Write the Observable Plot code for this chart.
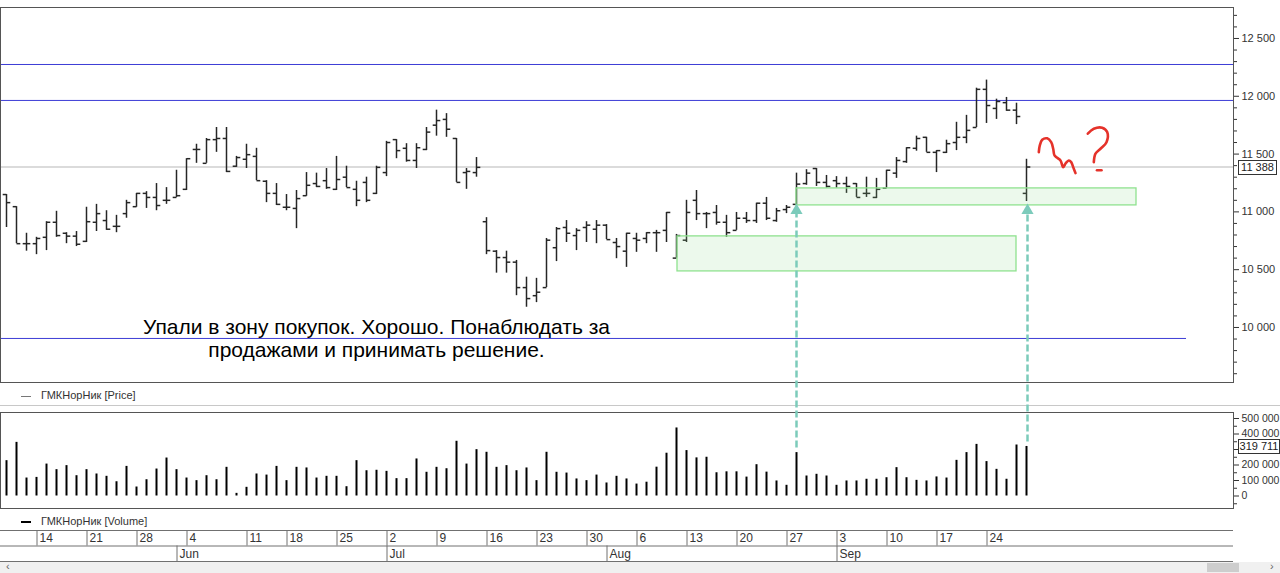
<!DOCTYPE html>
<html><head><meta charset="utf-8">
<script src="https://cdn.jsdelivr.net/npm/d3@7"></script>
<script src="https://cdn.jsdelivr.net/npm/@observablehq/plot@0.6"></script>
<style>
html,body{margin:0;padding:0;background:#fff;}
#wrap{position:relative;width:1280px;height:573px;overflow:hidden;font-family:"Liberation Sans",Arial,sans-serif;color:#333;}
#wrap > *{position:absolute;left:0;}
.box{border:1px solid #333;background:#fff;font-size:11px;line-height:13px;text-align:center;color:#222;box-sizing:border-box;height:15px;width:39px;}
</style></head><body><div id="wrap"></div>
<script>
// ---- data (ГМКНорНик, daily, 2018) ----
const dates = [
"2018-05-08","2018-05-10","2018-05-11",
"2018-05-14","2018-05-15","2018-05-16","2018-05-17","2018-05-18",
"2018-05-21","2018-05-22","2018-05-23","2018-05-24","2018-05-25",
"2018-05-28","2018-05-29","2018-05-30","2018-05-31","2018-06-01",
"2018-06-04","2018-06-05","2018-06-06","2018-06-07","2018-06-08","2018-06-09",
"2018-06-11","2018-06-13","2018-06-14","2018-06-15",
"2018-06-18","2018-06-19","2018-06-20","2018-06-21","2018-06-22",
"2018-06-25","2018-06-26","2018-06-27","2018-06-28","2018-06-29",
"2018-07-02","2018-07-03","2018-07-04","2018-07-05","2018-07-06",
"2018-07-09","2018-07-10","2018-07-11","2018-07-12","2018-07-13",
"2018-07-16","2018-07-17","2018-07-18","2018-07-19","2018-07-20",
"2018-07-23","2018-07-24","2018-07-25","2018-07-26","2018-07-27",
"2018-07-30","2018-07-31","2018-08-01","2018-08-02","2018-08-03",
"2018-08-06","2018-08-07","2018-08-08","2018-08-09","2018-08-10",
"2018-08-13","2018-08-14","2018-08-15","2018-08-16","2018-08-17",
"2018-08-20","2018-08-21","2018-08-22","2018-08-23","2018-08-24",
"2018-08-27","2018-08-28","2018-08-29","2018-08-30","2018-08-31",
"2018-09-03","2018-09-04","2018-09-05","2018-09-06","2018-09-07",
"2018-09-10","2018-09-11","2018-09-12","2018-09-13","2018-09-14",
"2018-09-17","2018-09-18","2018-09-19","2018-09-20","2018-09-21",
"2018-09-24","2018-09-25","2018-09-26","2018-09-27","2018-09-28"];

const open = [11150,11045,10725,10725,10780,10910,10815,10790,10745,10910,
10925,10875,10985,11045,11160,11125,11100,11125,11195,11540,
11420,11625,11635,11395,11455,11480,11265,11160,11040,11030,
11140,11245,11270,11195,11300,11195,11255,11160,11340,11625,
11550,11445,11540,11750,11800,11635,11340,11340,10915,10660,
10605,10565,10345,10275,10345,10690,10865,10795,10865,10850,
10885,10735,10660,10770,10770,10820,10840,10600,10755,11100,
10985,10995,10910,10840,10945,10925,11075,10925,11020,11065,
11245,11375,11255,11270,11245,11245,11160,11125,11205,11335,
11435,11550,11645,11515,11515,11600,11645,11730,12060,11895,
11945,11880,11160];
const high = [11150,11045,10815,10780,10915,11005,10820,10830,11040,11065,
11010,10970,11100,11160,11175,11245,11210,11360,11460,11585,
11635,11730,11730,11480,11585,11550,11270,11245,11150,11185,
11340,11335,11375,11480,11395,11265,11300,11395,11610,11625,
11590,11590,11730,11880,11850,11635,11375,11470,10950,10665,
10660,10580,10435,10425,10770,10865,10925,10855,10915,10925,
10890,10770,10815,10815,10820,10840,10995,10805,11100,11185,
10995,11055,10970,10995,10995,11075,11125,11030,11055,11335,
11365,11375,11315,11305,11300,11245,11300,11290,11360,11470,
11555,11655,11645,11530,11620,11775,11835,12070,12140,11975,
11990,11940,11455];
const low = [10865,10725,10660,10630,10665,10780,10725,10700,10735,10830,
10840,10820,10945,11040,11030,11010,11065,11125,11185,11420,
11420,11515,11340,11385,11375,11270,11080,11055,11010,10855,
11135,11210,11195,11185,11210,11045,11080,11150,11305,11460,
11430,11375,11530,11655,11645,11255,11195,11300,10630,10470,
10470,10275,10175,10215,10345,10570,10735,10665,10735,10725,
10760,10595,10520,10650,10725,10650,10735,10600,10735,10925,
10855,10885,10780,10840,10900,10900,10925,10910,10985,11055,
11230,11220,11205,11205,11160,11125,11125,11115,11205,11290,
11420,11525,11515,11340,11505,11530,11590,11730,11765,11800,
11870,11755,11090];
const close = [11080,10725,10725,10770,10910,10795,10790,10720,10915,10985,
10850,10875,11080,11160,11125,11055,11100,11140,11460,11540,
11625,11635,11350,11470,11495,11270,11160,11065,11040,11115,
11230,11220,11210,11280,11210,11100,11100,11385,11600,11530,
11445,11555,11690,11790,11715,11255,11350,11385,10665,10605,
10565,10345,10250,10305,10755,10855,10815,10840,10885,10885,
10760,10700,10815,10755,10820,10820,10995,10795,10995,10985,
10985,10910,10820,10945,10925,11075,10945,11010,11040,11240,
11335,11255,11220,11245,11220,11125,11160,11195,11360,11445,
11555,11635,11515,11530,11590,11645,11705,12060,11920,11955,
11880,11825,11388];
const volume = [228000,346000,116000,120000,206000,170000,196000,131000,170000,142000,
127000,92000,191000,58000,105000,174000,245000,170000,116000,99000,
131000,105000,185000,17000,56000,142000,135000,191000,99000,185000,
181000,116000,127000,127000,60000,228000,163000,166000,159000,112000,
112000,239000,153000,185000,176000,353000,206000,299000,282000,185000,
196000,163000,181000,99000,282000,153000,148000,110000,99000,135000,
84000,127000,110000,77000,89000,186000,276000,439000,293000,246000,
250000,150000,156000,156000,122000,202000,154000,97000,69000,280000,
129000,140000,129000,69000,97000,97000,108000,108000,118000,183000,
118000,101000,97000,123000,116000,230000,280000,333000,222000,172000,
108000,329000,319711];

const priceTicks = [10000,10500,11000,11500,12000,12500];
// 300 000 sits under the last-value box, so only its tick mark is drawn
const volumeTicks = [0,100000,200000,400000,500000];
// annotation levels (blue lines), zones (green boxes), arrows, notes
const levels = [{y:12275, x1:-0.6, x2:122.7},{y:11964, x1:-0.6, x2:122.7},{y:9905, x1:-0.6, x2:118.0}];
const zones = [{x1:67.1, x2:101.0, y1:10485, y2:10788},{x1:79.0, x2:113.0, y1:11056, y2:11203}];
const arrowBars = [{i:79, p:11030},{i:102.1, p:11030}];
const notes = [{i:37, p:9910, text:"Упали в зону покупок. Хорошо. Понаблюдать за\nпродажами и принимать решение."}];
const scribble = [[103.23,11517],[103.33,11575],[103.57,11624],[104.07,11636],[104.47,11603],[104.67,11546],[104.8,11488],[105.07,11468],[105.4,11445],[105.67,11387],[105.93,11422],[106.23,11445],[106.47,11430],[106.67,11387],[106.9,11335]];
const qmark = [[108.13,11676],[108.73,11719],[109.57,11728],[110.07,11690],[110.0,11603],[109.4,11546],[108.9,11503],[108.73,11430]];
const qdot = [[109.05,11360],[109.5,11360]];

// ---- build ----
const font = "'Liberation Sans', Arial, sans-serif";
const W = 1280, MR = 47;
const xDomain = [-0.6, 122.7];
const priceDomain = [9524, 12768];
const volDomain = [-80645, 538710];
const fmt = d => d3.format(",")(d).replace(/,/g, " ");
const D = dates.map(d3.utcParse("%Y-%m-%d"));
const bars = D.map((d, i) => ({i, date: d, o: open[i], h: high[i], l: low[i], c: close[i], v: volume[i]}));
const last = bars[bars.length - 1];

const py = Plot.scale({y: {domain: priceDomain, range: [382, 7]}});
const vy = Plot.scale({y: {domain: volDomain, range: [103, 7]}});
const VOL_TOP = 405, DATE_TOP = 528;

const arrows = arrowBars.map(a => {
  const vIdx = Math.round(a.i);
  const bottomPx = VOL_TOP + vy.apply(volume[vIdx]) - 5;
  return {i: a.i, from: py.invert(bottomPx), to: a.p};
});

const wrap = document.getElementById("wrap");
const baseStyle = {background: "transparent", overflow: "visible", fontFamily: font, color: "#333"};
const teal = "#7ccbbb", red = "#e5322a", barColor = "#262626";

// volume panel
const volPlot = Plot.plot({
  width: W, height: 110, marginLeft: 0, marginRight: MR, marginTop: 7, marginBottom: 7,
  x: {domain: xDomain, axis: null},
  y: {domain: volDomain, axis: null},
  style: {...baseStyle, fontSize: "10.5px"},
  marks: [
    Plot.ruleX(bars, {x: "i", y1: 0, y2: "v", stroke: "#000", strokeWidth: 2}),
    Plot.frame({stroke: "#555"}),
    Plot.axisY({anchor: "right", label: null, ticks: d3.range(-50000, 500000, 50000).filter(t => t % 100000 !== 0), tickSize: 3, tickFormat: () => ""}),
    Plot.axisY({anchor: "right", label: null, ticks: [300000], tickSize: 5, tickFormat: () => ""}),
    Plot.axisY({anchor: "right", label: null, ticks: volumeTicks, tickSize: 5, tickPadding: 3, tickFormat: fmt})
  ]
});
volPlot.style.top = VOL_TOP + "px";
wrap.appendChild(volPlot);

// date axis panel
const weekStarts = [], monthStarts = [];
bars.forEach((b, i) => {
  if (i === 0) return;
  const prev = bars[i - 1].date;
  if (+d3.utcMonday.floor(prev) !== +d3.utcMonday.floor(b.date))
    weekStarts.push({i, label: String(d3.utcMonday.floor(b.date).getUTCDate())});
  if (prev.getUTCMonth() !== b.date.getUTCMonth())
    monthStarts.push({i, label: d3.utcFormat("%b")(b.date)});
});
const datePlot = Plot.plot({
  width: W, height: 36, marginLeft: 0, marginRight: MR, marginTop: 2, marginBottom: 3,
  x: {domain: xDomain, axis: null},
  y: {domain: [0, 2], axis: null},
  style: {...baseStyle, fontSize: "12px"},
  marks: [
    Plot.ruleY([0, 1, 2], {x1: xDomain[0], x2: xDomain[1], stroke: "#707070"}),
    Plot.ruleX(weekStarts, {x: "i", y1: 1, y2: 2, dx: 0.5, stroke: "#707070"}),
    Plot.ruleX(monthStarts, {x: "i", y1: 0, y2: 1, dx: 0.5, stroke: "#707070"}),
    Plot.text(weekStarts, {x: "i", y: 1.5, text: "label", dx: 3, textAnchor: "start", fill: "#333"}),
    Plot.text(monthStarts, {x: "i", y: 0.5, text: "label", dx: 3, textAnchor: "start", fill: "#333"})
  ]
});
datePlot.style.top = DATE_TOP + "px";
wrap.appendChild(datePlot);

// legends, separator, scrollbar
function el(html, css) { const d = document.createElement("div"); d.innerHTML = html; d.style.cssText = css; wrap.appendChild(d); return d; }
el("", "top:405px;width:1280px;height:1px;background:#c8c8c8;");
el('<span style="display:inline-block;width:10px;border-top:1px solid #777;vertical-align:middle;margin-right:10px"></span>ГМКНорНик [Price]', "top:388px;left:21px;font-size:11px;line-height:14px;color:#333;");
el('<span style="display:inline-block;width:10px;border-top:2px solid #000;vertical-align:middle;margin-right:10px"></span>ГМКНорНик [Volume]', "top:514px;left:21px;font-size:11px;line-height:14px;color:#333;");
el('<span style="position:absolute;left:6px;top:-2px;font-size:11px;color:#666">&lsaquo;</span><span style="position:absolute;left:1207px;top:1px;width:32px;height:9px;background:#cdcdcd"></span><span style="position:absolute;left:1270px;top:-2px;font-size:11px;color:#666">&rsaquo;</span>', "top:562px;width:1280px;height:11px;background:#f0f0f0;");

// price panel (on top)
const pricePlot = Plot.plot({
  width: W, height: 390, marginLeft: 0, marginRight: MR, marginTop: 7, marginBottom: 8,
  x: {domain: xDomain, axis: null},
  y: {domain: priceDomain, axis: null},
  style: {...baseStyle, fontSize: "11px"},
  marks: [
    Plot.ruleY([last.c], {x1: xDomain[0], x2: xDomain[1], stroke: "#cfcfcf", strokeWidth: 1.5}),
    Plot.ruleY(levels, {y: "y", x1: "x1", x2: "x2", stroke: "#3d3dd6", strokeWidth: 1}),
    Plot.ruleX(bars, {x: "i", y1: "l", y2: "h", stroke: barColor, strokeWidth: 1.5}),
    Plot.link(bars, {x1: d => d.i - 0.38, x2: "i", y1: "o", y2: "o", stroke: barColor, strokeWidth: 1.5}),
    Plot.link(bars, {x1: "i", x2: d => d.i + 0.38, y1: "c", y2: "c", stroke: barColor, strokeWidth: 1.5}),
    Plot.rect(zones, {x1: "x1", x2: "x2", y1: "y1", y2: "y2", fill: "#86dc86", fillOpacity: 0.16, stroke: "#8fe28f", strokeWidth: 1.3}),
    Plot.frame({stroke: "#555"}),
    Plot.axisY({anchor: "right", label: null, ticks: d3.range(9600, 12800, 100).filter(t => t % 500 !== 0), tickSize: 3, tickFormat: () => ""}),
    Plot.axisY({anchor: "right", label: null, ticks: priceTicks, tickSize: 5, tickPadding: 3, tickFormat: fmt}),
    Plot.text(notes, {x: "i", y: "p", text: "text", fontSize: 21, lineHeight: 1.12, fill: "#000", textAnchor: "middle"}),
    Plot.link(arrows, {x1: "i", x2: "i", y1: "from", y2: "to", stroke: teal, strokeWidth: 2.5, strokeDasharray: "7,3"}),
    Plot.dot(arrows, {x: "i", y: "to", symbol: "triangle", r: 4.5, fill: teal, stroke: "none", dy: 2}),
    Plot.line(scribble, {x: d => d[0], y: d => d[1], curve: "catmull-rom", stroke: red, strokeWidth: 2.6, strokeLinecap: "round", strokeLinejoin: "round"}),
    Plot.line(qmark, {x: d => d[0], y: d => d[1], curve: "catmull-rom", stroke: red, strokeWidth: 2.6, strokeLinecap: "round", strokeLinejoin: "round"}),
    Plot.line(qdot, {x: d => d[0], y: d => d[1], stroke: red, strokeWidth: 2.6, strokeLinecap: "round"})
  ]
});
pricePlot.style.top = "0px";
wrap.appendChild(pricePlot);

// last-value boxes placed through the scales
const lastPriceBox = el(fmt(last.c), "");
lastPriceBox.className = "box";
lastPriceBox.style.cssText = `left:1238px;top:${(pricePlot.scale("y").apply(last.c) - 7).toFixed(1)}px;`;
const lastVolBox = el(fmt(last.v), "");
lastVolBox.className = "box";
lastVolBox.style.cssText = `left:1238px;top:${(VOL_TOP + volPlot.scale("y").apply(last.v) - 7).toFixed(1)}px;width:42px;`;
</script>
</body></html>
